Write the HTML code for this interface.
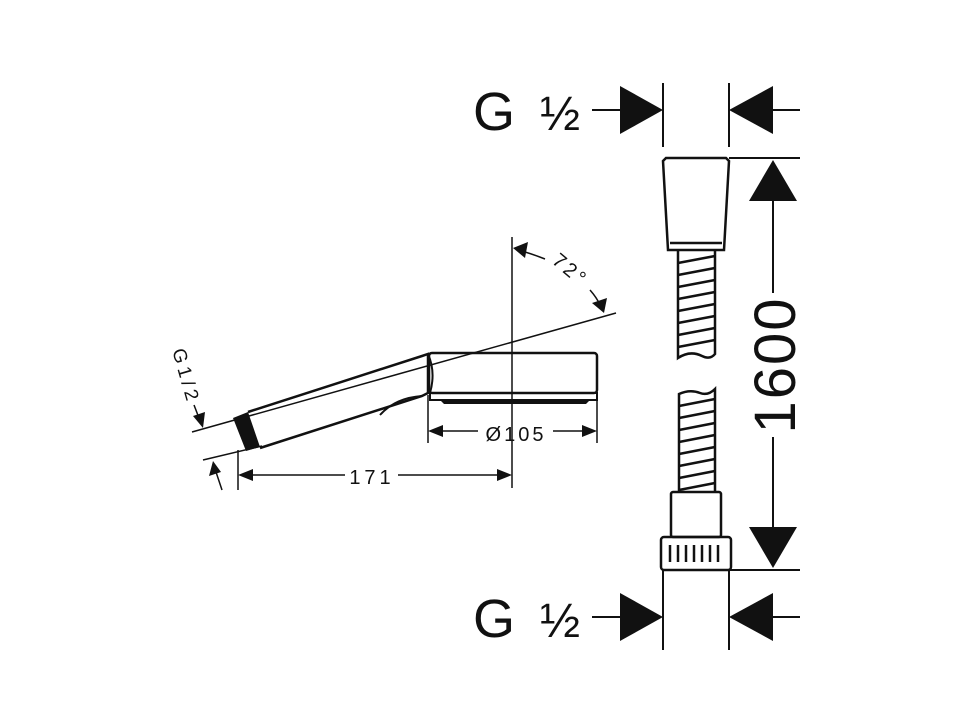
<!DOCTYPE html>
<html><head><meta charset="utf-8"><style>html,body{margin:0;padding:0;background:#fff}svg{display:block}</style></head>
<body>
<svg width="970" height="727" viewBox="0 0 970 727" xmlns="http://www.w3.org/2000/svg" font-family="Liberation Sans, sans-serif" fill="none" stroke="#111" stroke-width="2">
<!-- Hose -->
<line x1="663" y1="83" x2="663" y2="147"/>
<line x1="729" y1="83" x2="729" y2="147"/>
<line x1="592" y1="110" x2="625" y2="110"/>
<polygon points="620,86 663,110 620,134" fill="#111" stroke="none"/>
<line x1="770" y1="110" x2="800" y2="110"/>
<polygon points="773,86 729,110 773,134" fill="#111" stroke="none"/>
<line x1="729" y1="158" x2="800" y2="158"/>
<path d="M666,158 L726,158 L729,161 L724,250 L668,250 L663,161 Z" stroke-width="2.5"/>
<line x1="670" y1="243" x2="722" y2="243" stroke-width="2.5"/>
<path d="M678,250 L678,358 Q690,350 702,356 Q710,360 715,354 L715,250" stroke-width="2.5"/>
<g stroke-width="2.5">
<line x1="678" y1="263" x2="715" y2="256"/><line x1="678" y1="275" x2="715" y2="268"/><line x1="678" y1="287" x2="715" y2="280"/><line x1="678" y1="299" x2="715" y2="292"/><line x1="678" y1="311" x2="715" y2="304"/><line x1="678" y1="323" x2="715" y2="316"/><line x1="678" y1="335" x2="715" y2="328"/><line x1="678" y1="347" x2="715" y2="340"/>
</g>
<path d="M679,492 L679,394 Q690,389 700,393 Q708,396 715,389 L715,492" stroke-width="2.5"/>
<g stroke-width="2.5">
<line x1="679" y1="406" x2="715" y2="399"/><line x1="679" y1="418" x2="715" y2="411"/><line x1="679" y1="430" x2="715" y2="423"/><line x1="679" y1="442" x2="715" y2="435"/><line x1="679" y1="454" x2="715" y2="447"/><line x1="679" y1="466" x2="715" y2="459"/><line x1="679" y1="478" x2="715" y2="471"/><line x1="679" y1="490" x2="715" y2="483"/>
</g>
<rect x="671" y="492" width="50" height="45" rx="2" stroke-width="2.5"/>
<rect x="661" y="537" width="70" height="33" rx="3" stroke-width="2.5"/>
<g stroke-width="2.5"><line x1="670" y1="545" x2="670" y2="562"/><line x1="678" y1="545" x2="678" y2="562"/><line x1="686" y1="545" x2="686" y2="562"/><line x1="694" y1="545" x2="694" y2="562"/><line x1="702" y1="545" x2="702" y2="562"/><line x1="710" y1="545" x2="710" y2="562"/><line x1="718" y1="545" x2="718" y2="562"/></g>
<line x1="729" y1="570" x2="800" y2="570"/>
<line x1="663" y1="570" x2="663" y2="650"/>
<line x1="729" y1="570" x2="729" y2="650"/>
<line x1="592" y1="617" x2="625" y2="617"/>
<polygon points="620,593 663,617 620,641" fill="#111" stroke="none"/>
<line x1="770" y1="617" x2="800" y2="617"/>
<polygon points="773,593 729,617 773,641" fill="#111" stroke="none"/>
<line x1="773" y1="195" x2="773" y2="293"/>
<line x1="773" y1="437" x2="773" y2="530"/>
<polygon points="773,160 797,201 749,201" fill="#111" stroke="none"/>
<polygon points="773,568 797,527 749,527" fill="#111" stroke="none"/>
<text x="0" y="0" transform="translate(795,365) rotate(-90)" text-anchor="middle" font-size="58" fill="#111" stroke="none" letter-spacing="2">1600</text>
<text x="473" y="130" font-size="54" fill="#111" stroke="none">G</text>
<text x="540" y="130" font-size="48" fill="#111" stroke="none">½</text>
<text x="473" y="637" font-size="54" fill="#111" stroke="none">G</text>
<text x="540" y="637" font-size="48" fill="#111" stroke="none">½</text>
<!-- Hand shower -->
<line x1="512" y1="237" x2="512" y2="488" stroke-width="1.5"/>
<line x1="192" y1="432" x2="616" y2="313" stroke-width="1.5"/>
<line x1="203" y1="460" x2="262" y2="446" stroke-width="1.5"/>
<path d="M248,412 L422,356 L428,354 L428,393 L422,396 L260,448" stroke-width="2.5"/>
<path d="M428,354 Q436,372 430,393" stroke-width="2"/>
<path d="M380,415 Q395,398 422,396" stroke-width="2"/>
<polygon points="233,418 248,412 260,447 246,451" fill="#111" stroke="none"/>
<rect x="429" y="353" width="168" height="40" rx="3" stroke-width="2.5"/>
<rect x="430" y="393" width="167" height="7" stroke-width="2"/>
<path d="M440,400 L590,400 L586,404 L444,404 Z" fill="#111" stroke="none"/>
<line x1="428" y1="395" x2="428" y2="443" stroke-width="1.5"/>
<line x1="597" y1="395" x2="597" y2="443" stroke-width="1.5"/>
<line x1="440" y1="431" x2="478" y2="431" stroke-width="1.5"/>
<line x1="553" y1="431" x2="585" y2="431" stroke-width="1.5"/>
<polygon points="428,431 443,425 443,437" fill="#111" stroke="none"/>
<polygon points="597,431 582,425 582,437" fill="#111" stroke="none"/>
<text x="516" y="441" text-anchor="middle" font-size="20" fill="#111" stroke="none" letter-spacing="3">Ø105</text>
<line x1="238" y1="450" x2="238" y2="490" stroke-width="1.5"/>
<line x1="250" y1="475" x2="345" y2="475" stroke-width="1.5"/>
<line x1="398" y1="475" x2="500" y2="475" stroke-width="1.5"/>
<polygon points="238,475 253,469 253,481" fill="#111" stroke="none"/>
<polygon points="512,475 497,469 497,481" fill="#111" stroke="none"/>
<text x="372" y="484" text-anchor="middle" font-size="20" fill="#111" stroke="none" letter-spacing="4">171</text>
<path d="M525,252 Q535,255 545,259" stroke-width="1.5"/>
<polygon points="513,248 528,242 525,258" fill="#111" stroke="none"/>
<path d="M590,290 Q597,298 600,305" stroke-width="1.5"/>
<polygon points="604,313 592,303 607,298" fill="#111" stroke="none"/>
<text x="0" y="0" transform="translate(566,275) rotate(40)" text-anchor="middle" font-size="20" fill="#111" stroke="none" letter-spacing="3">72°</text>
<text x="0" y="0" transform="translate(180,378) rotate(74)" text-anchor="middle" font-size="19" fill="#111" stroke="none" letter-spacing="4">G1/2</text>
<line x1="194" y1="405" x2="199" y2="418" stroke-width="1.5"/>
<polygon points="203,428 193,416 205,412" fill="#111" stroke="none"/>
<line x1="222" y1="490" x2="216" y2="472" stroke-width="1.5"/>
<polygon points="213,461 209,476 221,472" fill="#111" stroke="none"/>
</svg>
</body></html>
